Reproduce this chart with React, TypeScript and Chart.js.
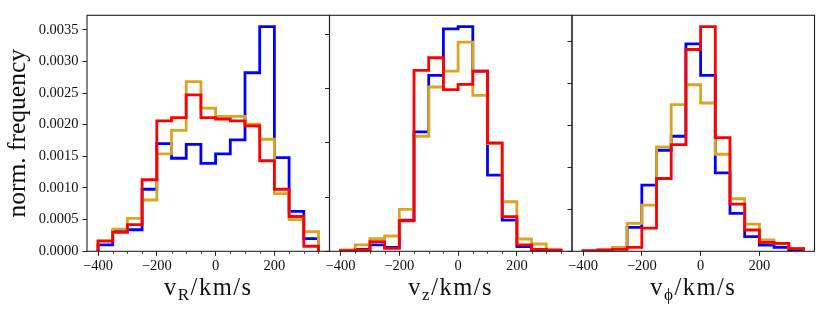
import React, { useEffect, useRef } from 'react';
import { Chart, registerables } from 'chart.js';

Chart.register(...registerables);

// Histogram bin edges (km/s), 50 km/s bins
const binEdges = [-400, -350, -300, -250, -200, -150, -100, -50, 0, 50, 100, 150, 200, 250, 300, 350];

// Panel 1: v_R
const vRBlue = [0.0001, 0.00032, 0.00034, 0.00098, 0.0017, 0.00147, 0.00169, 0.00139, 0.00154, 0.00176, 0.00282, 0.00355, 0.00148, 0.00063, 0.0002];
const vROrange = [0.00017, 0.00035, 0.00052, 0.00081, 0.00154, 0.00191, 0.00268, 0.00226, 0.00213, 0.00213, 0.00201, 0.00177, 0.00091, 0.0005, 0.00031];
const vRRed = [0.00016, 0.0003, 0.00042, 0.00113, 0.00206, 0.00211, 0.00247, 0.00211, 0.00209, 0.00206, 0.00198, 0.00143, 0.00098, 0.00055, 0.00008];

// Panel 2: v_z
const vzBlue = [0.000012, 0.000037, 0.000117, 0.000074, 0.000577, 0.002202, 0.003245, 0.004104, 0.004147, 0.003325, 0.001405, 0.000577, 0.000086, 0.000025, 0.000012];
const vzOrange = [0.000025, 0.000117, 0.000233, 0.000282, 0.000773, 0.002123, 0.003031, 0.003325, 0.003859, 0.002877, 0.001988, 0.000914, 0.000227, 0.000135, 0.000012];
const vzRed = [0.000012, 0.000025, 0.000178, 0.000055, 0.000564, 0.003337, 0.003571, 0.002982, 0.00308, 0.003325, 0.002, 0.000638, 0.000117, 0.000037, 0.000025];

// Panel 3: v_phi
const vphiBlue = [0.000008, 0.000016, 0.000071, 0.000569, 0.001573, 0.002403, 0.002735, 0.004933, 0.004182, 0.001866, 0.000901, 0.000348, 0.00015, 0.000095, 0.000032];
const vphiOrange = [0.000008, 0.000032, 0.000095, 0.000664, 0.001099, 0.002482, 0.003486, 0.00396, 0.003526, 0.002308, 0.001249, 0.000648, 0.000269, 0.00019, 0.000071];
const vphiRed = [0.000008, 0.000032, 0.000047, 0.000095, 0.000553, 0.001731, 0.002538, 0.004798, 0.005344, 0.002704, 0.001123, 0.000506, 0.000213, 0.00019, 0.000063];

// Tick values
const xMajorTicks = [-400, -200, 0, 200];
const xMinorTicks = [-350, -300, -250, -150, -100, -50, 50, 100, 150, 250, 300, 350];
const yTicksP1 = [0, 0.0005, 0.001, 0.0015, 0.002, 0.0025, 0.003, 0.0035];
const yTicksP2 = [0, 0.001, 0.002, 0.003, 0.004];
const yTicksP3 = [0, 0.001, 0.002, 0.003, 0.004, 0.005];

const xLabels = ['R', 'z', '\u03D5'];
const yTitle = 'norm. frequency';

const BLUE = '#0000ff';
const ORANGE = '#daa520';
const RED = '#ff0000';

const W = 830;
const H = 315;
const PLOT_TOP = 15.3;
const PLOT_BOTTOM = 251.3;
const PANEL_X = [[87, 329.5], [329.5, 572], [572, 814.5]];
const FONT = '"Liberation Serif", "DejaVu Serif", serif';

function stepPoints(values: number[]) {
  const pts: { x: number; y: number }[] = [{ x: binEdges[0], y: 0 }];
  values.forEach((v, i) => {
    pts.push({ x: binEdges[i], y: v });
    pts.push({ x: binEdges[i + 1], y: v });
  });
  pts.push({ x: binEdges[binEdges.length - 1], y: 0 });
  return pts;
}

const framePlugin = {
  id: 'frame',
  afterDraw(chart: any, _args: any, opts: any) {
    const { ctx, chartArea } = chart;
    ctx.save();
    if (opts.minor) {
      const xs = chart.scales.x;
      ctx.strokeStyle = '#222';
      ctx.lineWidth = 0.8;
      ctx.beginPath();
      xMinorTicks.forEach((v) => {
        const px = Math.round(xs.getPixelForValue(v)) + 0.5;
        ctx.moveTo(px, chartArea.bottom);
        ctx.lineTo(px, chartArea.bottom + 2.6);
      });
      ctx.stroke();
    }
    ctx.strokeStyle = '#222';
    ctx.lineWidth = 1.1;
    ctx.strokeRect(chartArea.left, chartArea.top, chartArea.right - chartArea.left, chartArea.bottom - chartArea.top);
    ctx.restore();
  },
};

function makeChart(
  canvas: HTMLCanvasElement,
  panel: number,
  blue: number[],
  orange: number[],
  red: number[],
  yTicks: number[],
  showYLabels: boolean,
  minor: boolean
) {
  const [left, right] = PANEL_X[panel];
  const yAxisW = showYLabels ? left : 12;
  const ymax = Math.max(...blue, ...orange, ...red) * 1.05;
  return new Chart(canvas, {
    type: 'line',
    data: {
      datasets: [
        { data: stepPoints(blue), borderColor: BLUE, order: 2 },
        { data: stepPoints(orange), borderColor: ORANGE, order: 1 },
        { data: stepPoints(red), borderColor: RED, order: 0 },
      ].map((d) => ({
        ...d,
        borderWidth: 2.8,
        pointRadius: 0,
        tension: 0,
        fill: false,
        clip: 0,
        borderJoinStyle: 'miter' as const,
        borderCapStyle: 'butt' as const,
      })),
    },
    options: {
      animation: false,
      responsive: false,
      events: [],
      layout: {
        padding: { top: PLOT_TOP, bottom: 0, left: left - yAxisW, right: W - right },
      },
      plugins: {
        legend: { display: false },
        tooltip: { enabled: false },
        frame: { minor },
      } as any,
      scales: {
        x: {
          type: 'linear',
          position: 'bottom',
          min: -437.5,
          max: 387.5,
          afterBuildTicks: (s: any) => {
            s.ticks = xMajorTicks.map((v) => ({ value: v }));
          },
          afterFit: (s: any) => {
            s.height = H - PLOT_BOTTOM;
          },
          ticks: {
            autoSkip: false,
            maxRotation: 0,
            padding: 2,
            color: '#111',
            font: { family: FONT, size: 14.5 },
            callback: (v: any) => (v < 0 ? '\u2212' + Math.abs(v) : String(v)),
          },
          grid: { drawOnChartArea: false, tickLength: 4.5, tickColor: '#222', tickWidth: 1 },
          border: { display: false },
        },
        y: {
          type: 'linear',
          position: 'left',
          min: 0,
          max: ymax,
          afterBuildTicks: (s: any) => {
            s.ticks = yTicks.map((v) => ({ value: v }));
          },
          afterFit: (s: any) => {
            s.width = yAxisW;
          },
          ticks: {
            display: showYLabels,
            autoSkip: false,
            padding: 4,
            color: '#111',
            font: { family: FONT, size: 14.5 },
            callback: (v: any) => Number(v).toFixed(4),
          },
          title: {
            display: showYLabels,
            text: yTitle,
            color: '#111',
            font: { family: FONT, size: 25.5 },
            padding: { top: 3, bottom: 0 },
          },
          grid: { drawOnChartArea: false, tickLength: 4.5, tickColor: '#222', tickWidth: 1 },
          border: { display: false },
        },
      },
    } as any,
    plugins: [framePlugin],
  });
}

export default function App() {
  const c1 = useRef<HTMLCanvasElement>(null);
  const c2 = useRef<HTMLCanvasElement>(null);
  const c3 = useRef<HTMLCanvasElement>(null);

  useEffect(() => {
    const charts = [
      makeChart(c1.current!, 0, vRBlue, vROrange, vRRed, yTicksP1, true, true),
      makeChart(c2.current!, 1, vzBlue, vzOrange, vzRed, yTicksP2, false, true),
      makeChart(c3.current!, 2, vphiBlue, vphiOrange, vphiRed, yTicksP3, false, false),
    ];
    return () => charts.forEach((c) => c.destroy());
  }, []);

  const canvasStyle: React.CSSProperties = { position: 'absolute', left: 0, top: 0, width: W, height: H };

  return (
    <div style={{ position: 'fixed', left: 0, top: 0, width: W, height: H, background: '#fff', overflow: 'hidden' }}>
      <canvas ref={c1} width={W} height={H} style={canvasStyle} />
      <canvas ref={c2} width={W} height={H} style={canvasStyle} />
      <canvas ref={c3} width={W} height={H} style={canvasStyle} />
      {PANEL_X.map(([l, r], i) => (
        <div
          key={i}
          style={{
            position: 'absolute',
            left: (l + r) / 2 - 100,
            width: 200,
            top: 275,
            textAlign: 'center',
            fontFamily: FONT,
            fontSize: 24.5,
            lineHeight: '24.5px',
            letterSpacing: '1.5px',
            color: '#111',
            whiteSpace: 'nowrap',
          }}
        >
          v
          <span style={{ fontSize: '70%', position: 'relative', top: '0.28em' }}>{xLabels[i]}</span>
          /km/s
        </div>
      ))}
    </div>
  );
}
